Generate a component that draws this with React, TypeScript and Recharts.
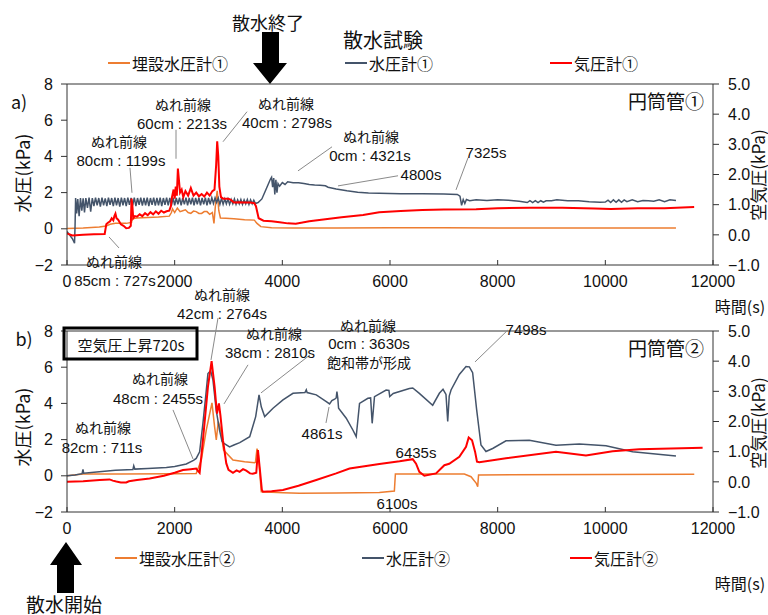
import React from 'react';
import { LineChart, Line, XAxis, YAxis, ReferenceLine } from 'recharts';

type Pt = [number, number];

// ---------- axes ----------
const xTicks = [0, 2000, 4000, 6000, 8000, 10000, 12000];
const leftTicks = [-2, 0, 2, 4, 6, 8];
const rightTicks = [-1, 0, 1, 2, 3, 4, 5];

// ---------- series names ----------
const namesA = ['埋設水圧計①', '水圧計①', '気圧計①'];
const namesB = ['埋設水圧計②', '水圧計②', '気圧計②'];
const seriesColors = ['#ED7D31', '#44546A', '#FF0000'];

// ---------- panel a) data: [time s, value] ----------
const buriedA: Pt[] = [
  [0, 0.02], [300, 0.05], [600, 0.1], [727, 0.15], [800, 0.25], [900, 0.3], [1100, 0.3], [1199, 0.35],
  [1210, 0.55], [1300, 0.6], [1500, 0.62], [1700, 0.65], [1900, 0.7], [1940, 0.9], [1960, 1.1], [2000, 0.9],
  [2050, 1.15], [2100, 0.95], [2150, 1.0], [2200, 1.05], [2250, 0.9], [2300, 0.85], [2350, 0.98], [2400, 0.95],
  [2450, 0.85], [2500, 0.85], [2550, 0.95], [2600, 0.95], [2650, 0.8], [2700, 0.9], [2730, 0.3], [2760, 1.4],
  [2790, 2.1], [2820, 1.0], [2850, 0.6], [2950, 0.58], [3100, 0.55], [3300, 0.5], [3480, 0.48], [3530, 0.3],
  [3600, 0.12], [3800, 0.06], [4200, 0.04], [5000, 0.05], [6000, 0.06], [7000, 0.06], [8000, 0.05],
  [9000, 0.05], [10000, 0.05], [11312, 0.05],
];
const waterA: Pt[] = [
  [0, -0.15], [50, -0.35], [100, -0.55], [140, -0.8], [150, 0.2], [160, 1.7], [180, 0.85], [200, 1.65],
  [225, 0.7], [250, 1.7], [275, 1.0], [300, 1.68], [325, 0.9], [350, 1.7], [380, 1.15], [410, 1.72],
  [440, 0.95], [470, 1.7], [500, 1.25], [530, 1.72], [560, 1.3], [590, 1.7], [620, 1.22], [650, 1.72],
  [680, 1.3], [710, 1.68], [740, 1.25], [770, 1.72], [800, 1.32], [830, 1.7], [860, 1.25], [890, 1.72],
  [920, 1.3], [950, 1.7], [980, 1.22], [1010, 1.72], [1040, 1.3], [1070, 1.7], [1100, 1.25], [1130, 1.72],
  [1160, 1.32], [1190, 1.7], [1220, 1.3], [1250, 1.72], [1280, 1.25], [1310, 1.7], [1340, 1.32], [1370, 1.72],
  [1400, 1.28], [1430, 1.7], [1460, 1.3], [1490, 1.72], [1520, 1.25], [1550, 1.7], [1580, 1.32], [1610, 1.72],
  [1640, 1.28], [1670, 1.7], [1700, 1.3], [1730, 1.72], [1760, 1.25], [1790, 1.7], [1820, 1.32], [1850, 1.72],
  [1880, 1.3], [1910, 1.7], [1940, 1.28], [1970, 1.72], [2000, 1.3], [2030, 1.7], [2060, 1.35], [2090, 1.72],
  [2120, 1.3], [2150, 1.7], [2180, 1.35], [2210, 1.72], [2240, 1.3], [2270, 1.7], [2300, 1.35], [2330, 1.72],
  [2360, 1.3], [2390, 1.7], [2420, 1.35], [2450, 1.72], [2480, 1.3], [2510, 1.7], [2540, 1.35], [2570, 1.72],
  [2600, 1.3], [2630, 1.7], [2660, 1.35], [2690, 1.72], [2720, 1.4], [2750, 1.7], [2780, 1.45], [2810, 1.7],
  [2840, 1.35], [2870, 1.68], [2900, 1.35], [2930, 1.65], [2960, 1.38], [2990, 1.65], [3020, 1.35], [3050, 1.62],
  [3080, 1.38], [3110, 1.65], [3140, 1.35], [3170, 1.6], [3200, 1.38], [3230, 1.62], [3260, 1.35], [3290, 1.6],
  [3320, 1.38], [3350, 1.62], [3380, 1.35], [3410, 1.6], [3440, 1.38], [3470, 1.58], [3500, 1.4], [3550, 1.45],
  [3620, 1.65], [3700, 2.2], [3780, 2.75], [3800, 2.85], [3820, 2.3], [3840, 2.8], [3860, 1.9], [3880, 2.7],
  [3900, 2.0], [3920, 2.5], [3950, 2.35], [4000, 2.55], [4050, 2.45], [4100, 2.6], [4200, 2.55], [4300, 2.55],
  [4400, 2.5], [4500, 2.45], [4600, 2.42], [4700, 2.4], [4800, 2.38], [4850, 2.3], [5000, 2.2], [5200, 2.1],
  [5400, 2.02], [5600, 1.98], [5800, 1.96], [6200, 1.94], [6600, 1.93], [7000, 1.92], [7250, 1.9], [7300, 1.8],
  [7330, 1.3], [7360, 1.62], [7390, 1.4], [7420, 1.62], [7480, 1.55], [7600, 1.6], [7800, 1.56], [8000, 1.6],
  [8200, 1.58], [8400, 1.52], [8550, 1.45], [8600, 1.55], [8650, 1.45], [8700, 1.56], [8750, 1.45], [8800, 1.55],
  [8850, 1.47], [8900, 1.55], [9000, 1.55], [9100, 1.6], [9300, 1.55], [9500, 1.55], [9700, 1.5], [9900, 1.47],
  [10000, 1.48], [10050, 1.58], [10100, 1.45], [10150, 1.6], [10200, 1.47], [10250, 1.6], [10300, 1.47],
  [10350, 1.6], [10400, 1.5], [10500, 1.6], [10600, 1.5], [10700, 1.56], [10800, 1.55], [10900, 1.52],
  [11000, 1.6], [11100, 1.5], [11200, 1.6], [11312, 1.56],
];
const airA: Pt[] = [
  [0, 0.05], [100, -0.02], [300, 0.0], [500, 0.02], [700, 0.03], [730, 0.35], [760, 0.4], [800, 0.45],
  [830, 0.55], [860, 0.48], [880, 0.62], [900, 0.7], [920, 0.55], [950, 0.5], [1000, 0.35], [1050, 0.3],
  [1100, 0.22], [1150, 0.23], [1185, 0.3], [1199, 1.2], [1215, 0.95], [1230, 0.55], [1260, 0.62], [1300, 0.6],
  [1350, 0.68], [1400, 0.62], [1450, 0.72], [1500, 0.65], [1550, 0.75], [1600, 0.68], [1650, 0.78], [1700, 0.7],
  [1750, 0.8], [1800, 0.74], [1850, 0.78], [1900, 0.8], [1930, 0.95], [1950, 1.25], [1980, 1.5], [2000, 1.2],
  [2020, 1.6], [2040, 1.3], [2060, 2.2], [2080, 1.8], [2100, 1.4], [2130, 1.5], [2160, 1.25], [2200, 1.45],
  [2250, 1.3], [2300, 1.55], [2350, 1.3], [2400, 1.4], [2450, 1.28], [2500, 1.35], [2550, 1.27], [2600, 1.4],
  [2650, 1.3], [2700, 1.45], [2740, 1.5], [2770, 2.3], [2790, 3.1], [2810, 2.6], [2830, 1.6], [2860, 1.25],
  [2900, 1.2], [3000, 1.2], [3050, 1.15], [3100, 1.07], [3200, 1.08], [3300, 1.07], [3400, 1.07], [3480, 1.05],
  [3510, 0.95], [3560, 0.55], [3650, 0.47], [3800, 0.45], [3950, 0.42], [4100, 0.38], [4250, 0.37], [4500, 0.45],
  [4800, 0.52], [5100, 0.58], [5500, 0.66], [5800, 0.75], [6200, 0.79], [6600, 0.82], [7000, 0.84], [7600, 0.85],
  [8000, 0.88], [8600, 0.9], [9200, 0.9], [9800, 0.87], [10100, 0.86], [10600, 0.88], [11100, 0.88], [11650, 0.92],
];

// ---------- panel b) data ----------
const buriedB: Pt[] = [
  [0, 0.0], [300, 0.1], [1000, 0.1], [2000, 0.12], [2400, 0.13], [2495, 0.87], [2587, 2.52], [2693, 4.03],
  [2742, 2.7], [2773, 1.98], [2810, 3.0], [2850, 2.6], [2909, 1.42], [3083, 0.87], [3300, 0.78], [3485, 0.72],
  [3500, 0.75], [3530, 1.5], [3550, 1.3], [3580, 0.2], [3609, -0.88], [4011, -0.94], [4320, -0.97], [5000, -0.95],
  [5803, -0.92], [6081, -0.84], [6100, 0.1], [7381, 0.1], [7505, -0.05], [7600, -0.4], [7629, -0.6], [7645, 0.05],
  [7660, 0.05], [11652, 0.08],
];
const waterB: Pt[] = [
  [0, 0.0], [150, 0.05], [280, 0.12], [297, 0.35], [310, 0.14], [600, 0.22], [900, 0.3], [1225, 0.35],
  [1240, 0.55], [1260, 0.37], [1500, 0.4], [1845, 0.46], [2000, 0.52], [2216, 0.65], [2350, 0.85], [2400, 0.96],
  [2464, 1.33], [2525, 2.9], [2580, 4.5], [2618, 5.65], [2668, 5.8], [2711, 5.3], [2773, 3.6], [2835, 2.5],
  [2880, 1.9], [2909, 1.8], [3020, 1.6], [3100, 1.7], [3209, 1.83], [3394, 2.16], [3505, 3.27], [3567, 4.47],
  [3610, 3.8], [3672, 3.27], [3827, 3.73], [4012, 4.19], [4198, 4.56], [4420, 4.6], [4445, 4.75], [4460, 4.6],
  [4631, 4.47], [4817, 4.1], [4878, 3.97], [4920, 4.15], [4971, 4.23], [5000, 4.3], [5014, 4.65], [5030, 4.3],
  [5045, 3.73], [5187, 3.18], [5310, 2.53], [5372, 2.16], [5434, 4.0], [5589, 4.28], [5640, 4.3], [5669, 2.9],
  [5712, 4.37], [5928, 4.74], [5980, 4.72], [5995, 4.38], [6060, 4.55], [6360, 4.82], [6423, 4.85], [6545, 4.55],
  [6793, 3.9], [6917, 4.56], [6985, 4.78], [7040, 4.5], [7072, 3.0], [7100, 4.4], [7134, 4.74], [7288, 5.6],
  [7412, 6.04], [7474, 6.02], [7535, 5.7], [7610, 3.64], [7690, 1.7], [7783, 1.34], [7907, 1.51], [8155, 1.93],
  [8588, 1.97], [9083, 1.69], [9517, 1.75], [10012, 1.66], [10507, 1.33], [11312, 1.09],
];
const airB: Pt[] = [
  [0, 0.0], [300, 0.02], [607, 0.06], [790, 0.08], [850, 0.04], [916, 0.01], [1000, -0.02], [1100, -0.02],
  [1150, 0.02], [1300, 0.06], [1535, 0.11], [1800, 0.2], [2000, 0.3], [2154, 0.39], [2300, 0.42], [2400, 0.44],
  [2440, 0.35], [2464, 0.3], [2525, 1.38], [2618, 3.15], [2686, 4.0], [2742, 3.15], [2786, 2.26], [2822, 2.6],
  [2850, 2.2], [2897, 1.38], [2959, 0.61], [3000, 0.4], [3083, 0.3], [3150, 0.38], [3206, 0.33], [3270, 0.42],
  [3330, 0.37], [3400, 0.28], [3450, 0.27], [3516, 0.3], [3547, 1.05], [3578, 0.5], [3620, -0.27], [3640, -0.33],
  [3800, -0.31], [4011, -0.27], [4300, -0.13], [4630, 0.06], [5000, 0.28], [5249, 0.44], [5803, 0.59],
  [6178, 0.68], [6422, 0.75], [6484, 0.6], [6545, 0.33], [6638, 0.2], [6855, 0.28], [7010, 0.55], [7100, 0.6],
  [7288, 0.83], [7412, 1.16], [7462, 1.47], [7524, 1.38], [7580, 1.0], [7616, 0.67], [7660, 0.65], [8155, 0.78],
  [9083, 1.0], [9640, 0.87], [10135, 1.01], [10631, 1.08], [11807, 1.13],
];

// ---------- annotation leaders (data coordinates on left axis) ----------
const leadersA: [Pt, Pt][] = [
  [[1170, 3.37], [1207, 1.99]],
  [[2025, 5.47], [2025, 3.87]],
  [[3344, 6.47], [2898, 4.81]],
  [[4923, 4.53], [4291, 3.2]],
  [[6149, 2.93], [5034, 2.37]],
  [[7449, 3.92], [7226, 2.15]],
  [[780, -0.45], [966, -1.06]],
];
const leadersB: [Pt, Pt][] = [
  [[2805, 8.72], [2675, 6.4]],
  [[3362, 6.13], [2916, 3.97]],
  [[4514, 6.68], [3604, 4.58]],
  [[1969, 3.64], [2341, 0.93]],
  [[4811, 2.92], [4867, 3.8]],
  [[8192, 8.06], [7579, 6.29]],
];

const toRows = (pts: Pt[]) => pts.map(([t, v]) => ({ t, v }));
const minus = (s: string) => s.replace('-', '\u2212');
const fmtL = (v: number) => minus(String(v));
const fmtR = (v: number) => minus(v.toFixed(1));

const JP = '"Noto Sans CJK JP", "Noto Sans", sans-serif';
const NUM = '"Liberation Sans", Arial, sans-serif';
const AX = '#333';
const tickStyle = { fill: '#111', fontSize: 16, fontFamily: NUM };

type PanelProps = {
  top: number; height: number; mTop: number; mBottom: number;
  buried: Pt[]; water: Pt[]; air: Pt[]; leaders: [Pt, Pt][];
};

function Panel({ top, height, mTop, mBottom, buried, water, air, leaders }: PanelProps) {
  return (
    <div style={{ position: 'absolute', left: 0, top }}>
      <LineChart width={768} height={height} margin={{ top: mTop, right: 0, bottom: mBottom, left: 0 }}>
        <XAxis type="number" dataKey="t" domain={[0, 12000]} ticks={xTicks} interval={0} allowDataOverflow
          height={30} tickSize={-5} tickMargin={16} stroke={AX} tick={tickStyle} />
        <YAxis yAxisId="left" type="number" domain={[-2, 8]} ticks={leftTicks} interval={0} allowDataOverflow
          width={67} tickSize={6} tickMargin={8} stroke={AX} tick={tickStyle} tickFormatter={fmtL} />
        <YAxis yAxisId="right" orientation="right" type="number" domain={[-1, 5]} ticks={rightTicks} interval={0}
          allowDataOverflow width={55} tickSize={6} tickMargin={9} stroke={AX} tick={tickStyle} tickFormatter={fmtR} />
        <ReferenceLine yAxisId="left" y={8} stroke={AX} strokeWidth={1} ifOverflow="visible" />
        {leaders.map((seg, i) => (
          <ReferenceLine key={i} yAxisId="left" ifOverflow="visible" stroke="#8a8a8a" strokeWidth={1}
            segment={[{ x: seg[0][0], y: seg[0][1] }, { x: seg[1][0], y: seg[1][1] }]} />
        ))}
        <Line yAxisId="left" data={toRows(buried)} dataKey="v" type="linear" stroke={seriesColors[0]}
          strokeWidth={1.5} dot={false} isAnimationActive={false} />
        <Line yAxisId="left" data={toRows(water)} dataKey="v" type="linear" stroke={seriesColors[1]}
          strokeWidth={1.5} dot={false} isAnimationActive={false} />
        <Line yAxisId="right" data={toRows(air)} dataKey="v" type="linear" stroke={seriesColors[2]}
          strokeWidth={2} dot={false} isAnimationActive={false} />
      </LineChart>
    </div>
  );
}

// latin: true → drawn with the Latin font (tighter line box)
type Note = { x: number; y: number; s: string; latin?: boolean };
const notes: Note[] = [
  // panel a
  { x: 119, y: 141, s: 'ぬれ前線' }, { x: 121, y: 160, s: '80cm : 1199s', latin: true },
  { x: 183, y: 104, s: 'ぬれ前線' }, { x: 182, y: 123, s: '60cm : 2213s', latin: true },
  { x: 286, y: 103, s: 'ぬれ前線' }, { x: 287, y: 122, s: '40cm : 2798s', latin: true },
  { x: 371, y: 136, s: 'ぬれ前線' }, { x: 370, y: 155, s: '0cm : 4321s', latin: true },
  { x: 421, y: 174, s: '4800s', latin: true }, { x: 486, y: 152, s: '7325s', latin: true },
  { x: 114, y: 261, s: 'ぬれ前線' }, { x: 115, y: 280, s: '85cm : 727s', latin: true },
  // panel b
  { x: 222, y: 294, s: 'ぬれ前線' }, { x: 222, y: 313, s: '42cm : 2764s', latin: true },
  { x: 274, y: 333, s: 'ぬれ前線' }, { x: 270, y: 352, s: '38cm : 2810s', latin: true },
  { x: 368, y: 325, s: 'ぬれ前線' }, { x: 369, y: 343.5, s: '0cm : 3630s', latin: true },
  { x: 369, y: 362, s: '飽和帯が形成' },
  { x: 160, y: 378, s: 'ぬれ前線' }, { x: 158, y: 398, s: '48cm : 2455s', latin: true },
  { x: 103, y: 427, s: 'ぬれ前線' }, { x: 102, y: 447, s: '82cm : 711s', latin: true },
  { x: 322, y: 433, s: '4861s', latin: true }, { x: 416, y: 452, s: '6435s', latin: true },
  { x: 397, y: 503, s: '6100s', latin: true }, { x: 526, y: 329, s: '7498s', latin: true },
];

function LegendRow({ y, xs, names }: { y: number; xs: number[]; names: string[] }) {
  return (
    <g>
      {names.map((n, i) => (
        <g key={n}>
          <line x1={xs[i]} x2={xs[i] + 22} y1={y} y2={y} stroke={seriesColors[i]} strokeWidth={2} />
          <text x={xs[i] + 24} y={y} fontSize={16} fontFamily={JP} fill="#111" dominantBaseline="central">{n}</text>
        </g>
      ))}
    </g>
  );
}

function Overlay() {
  const T = (x: number, y: number, s: string, size: number, extra: any = {}) => (
    <text x={x} y={y} fontSize={size} fontFamily={JP} fill="#111" textAnchor="middle"
      dominantBaseline="central" {...extra}>{s}</text>
  );
  return (
    <svg width={768} height={615} style={{ position: 'absolute', left: 0, top: 0, pointerEvents: 'none' }}>
      {T(268, 22, '散水終了', 18)}
      <polygon points="262,32 279,32 279,63 287,63 270,84 253,63 262,63" fill="#000" />
      {T(383, 39, '散水試験', 20)}
      <LegendRow y={63} xs={[108, 345, 550]} names={namesA} />
      {T(19, 101, 'a)', 18)}
      {T(666, 100, '円筒管①', 19)}
      {T(740, 306, '時間(s)', 16)}
      {T(22, 173, '水圧(kPa)', 18, { transform: 'rotate(-90 22 173)' })}
      {T(757, 175, '空気圧(kPa)', 17, { transform: 'rotate(-90 757 175)' })}

      {T(24, 338, 'b)', 18)}
      <rect x={64} y={328} width={133} height={31} fill="none" stroke="#000" strokeWidth={3} />
      {T(131, 344, '空気圧上昇720s', 15)}
      {T(666, 347, '円筒管②', 19)}
      {T(22, 427, '水圧(kPa)', 18, { transform: 'rotate(-90 22 427)' })}
      {T(757, 423, '空気圧(kPa)', 17, { transform: 'rotate(-90 757 423)' })}
      <LegendRow y={558} xs={[115, 362, 570]} names={namesB} />
      {T(740, 583, '時間(s)', 16)}
      <polygon points="66,542 82,565 74,565 74,593 57,593 57,565 50,565" fill="#000" />
      {T(64, 603, '散水開始', 19)}

      {notes.map((n, i) => (
        <text key={i} x={n.x} y={n.y} fontSize={n.latin ? 15 : 14} fontFamily={n.latin ? NUM : JP} fill="#111"
          textAnchor="middle" dominantBaseline="central">{n.s}</text>
      ))}
    </svg>
  );
}

export default function App() {
  return (
    <div style={{ position: 'absolute', left: 0, top: 0, width: 768, height: 615, background: '#fff', overflow: 'hidden' }}>
      <Panel top={0} height={300} mTop={84} mBottom={5}
        buried={buriedA} water={waterA} air={airA} leaders={leadersA} />
      <Panel top={300} height={315} mTop={31} mBottom={73}
        buried={buriedB} water={waterB} air={airB} leaders={leadersB} />
      <Overlay />
    </div>
  );
}
